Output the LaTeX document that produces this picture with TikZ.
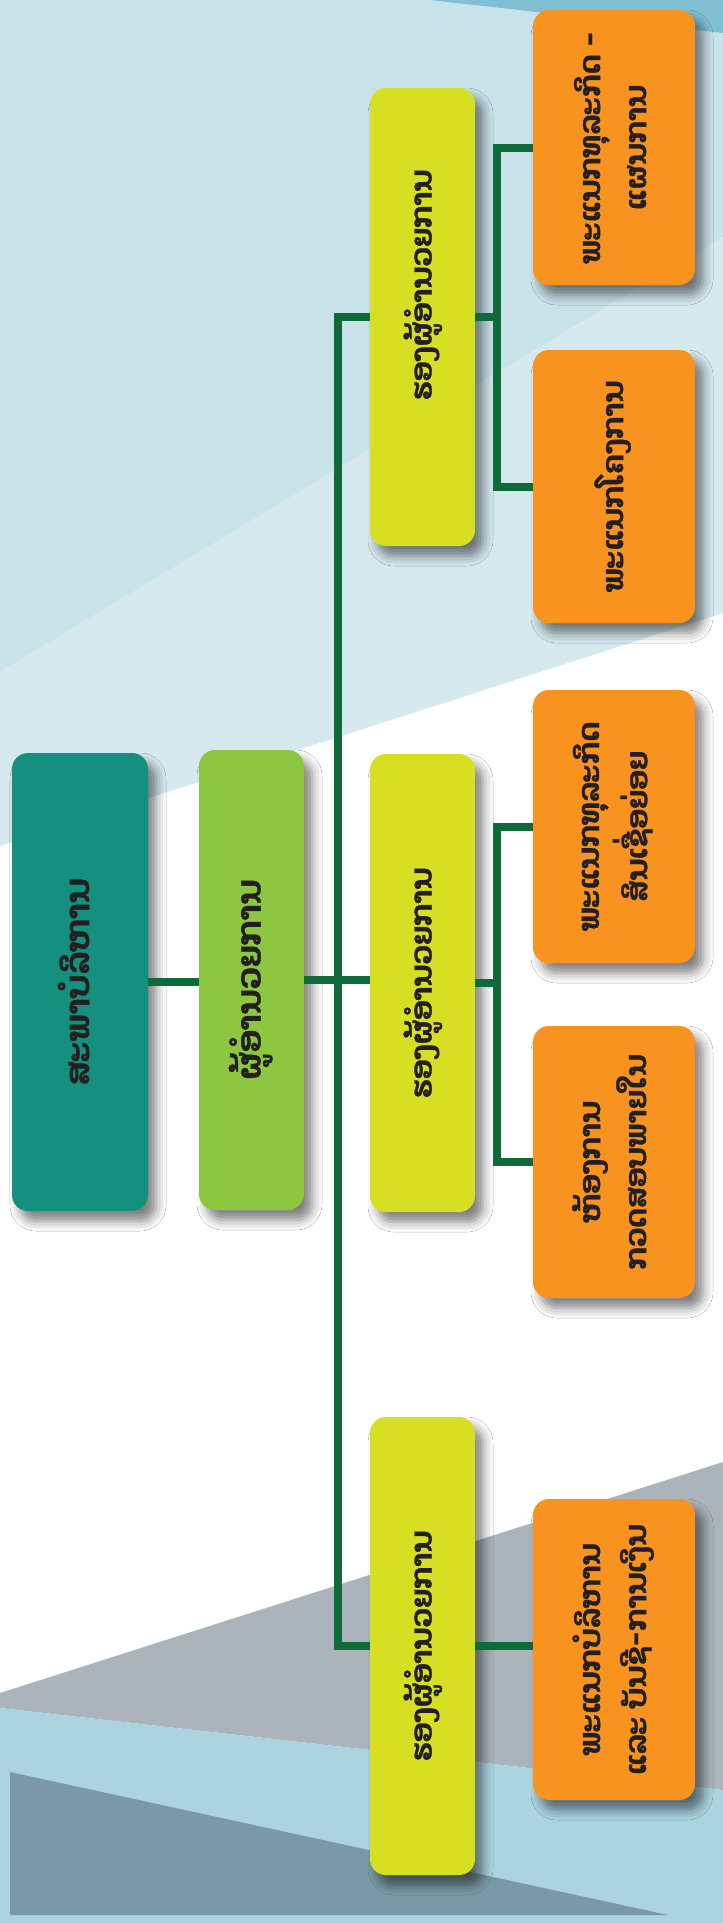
\documentclass[tikz,border=0pt]{standalone}
\usepackage{fontspec}
\usepackage{graphicx}
\newfontfamily\laofont[Script=Lao,BoldFeatures={FakeBold=1.2}]{Dhyana}
\usetikzlibrary{shadows.blur}
\definecolor{cteal}{HTML}{15907F}
\definecolor{cgreen}{HTML}{8DC63F}
\definecolor{cyellow}{HTML}{D6DF22}
\definecolor{corange}{HTML}{F7931E}
\definecolor{cline}{HTML}{0F6A39}
\definecolor{bgA}{HTML}{C9E3EA}
\definecolor{bgB}{HTML}{D5E9EF}
\definecolor{bgTop}{HTML}{80C0D2}
\definecolor{bgGray}{HTML}{AAB4BA}
\definecolor{bgLB}{HTML}{ABD4DF}
\definecolor{bgDark}{HTML}{7A99A4}
\definecolor{ctext}{HTML}{231F20}
\newcommand{\vtext}[1]{\rotatebox{90}{\begin{tabular}{@{}c@{}}#1\end{tabular}}}
\tikzset{
  box/.style={rounded corners=16pt, inner sep=0pt, text=ctext,
    font={\laofont\bfseries\fontsize{30}{46}\selectfont},
    blur shadow={shadow xshift=8pt, shadow yshift=-10pt, shadow blur radius=10pt, shadow opacity=50}},
  bigtext/.style={font={\laofont\bfseries\fontsize{34}{46}\selectfont}},
  tealbox/.style={box, bigtext, fill=cteal, minimum width=136pt, minimum height=458pt},
  greenbox/.style={box, bigtext, fill=cgreen, minimum width=105pt, minimum height=460pt},
  yellowbox/.style={box, fill=cyellow, minimum width=105pt, minimum height=458pt},
  orangebox/.style={box, fill=corange, minimum width=162pt},
  conn/.style={draw=cline, line width=8pt, line join=miter}
}
\begin{document}
\begin{tikzpicture}[x=1pt,y=-1pt]
\useasboundingbox (0,0) rectangle (723,1923);
% background
\fill[white] (0,0) rectangle (723,1923);
\fill[bgA] (0,0) -- (429,0) -- (723,33) -- (723,237) -- (0,672) -- cycle;
\fill[bgTop] (429,0) -- (723,0) -- (723,33) -- cycle;
\fill[bgB] (0,672) -- (723,237) -- (723,613) -- (0,846) -- cycle;
\fill[bgGray] (0,1693) -- (723,1462) -- (723,1790) -- (0,1708) -- cycle;
\fill[bgLB] (0,1708) -- (723,1790) -- (723,1923) -- (0,1923) -- cycle;
\fill[bgDark] (10,1772) -- (668,1915) -- (10,1915) -- cycle;

% boxes
\node[tealbox] (teal) at (80,982) {\vtext{ສະພາບໍລິຫານ}};
\node[greenbox] (green) at (251.5,980) {\vtext{ຜູ້ອຳນວຍການ}};
\node[yellowbox] (y1) at (422.5,317) {\vtext{\hspace*{64pt}ຮອງຜູ້ອຳນວຍການ}};
\node[yellowbox] (y2) at (422.5,983) {\vtext{ຮອງຜູ້ອຳນວຍການ}};
\node[yellowbox] (y3) at (422.5,1646) {\vtext{ຮອງຜູ້ອຳນວຍການ}};
\node[orangebox, minimum height=275pt] (o1) at (614,147.5) {\vtext{ພະແນກທຸລະກິດ -\\ແຜນການ}};
\node[orangebox, minimum height=273pt] (o2) at (614,486.5) {\vtext{ພະແນກໂຄງການ}};
\node[orangebox, minimum height=273pt] (o3) at (614,826.5) {\vtext{ພະແນກທຸລະກິດ\\ສິນເຊື່ອຍ່ອຍ}};
\node[orangebox, minimum height=272pt] (o4) at (614,1162) {\vtext{ຫ້ອງການ\\ກວດສອບພາຍໃນ}};
\node[orangebox, minimum height=301pt] (o5) at (614,1649.5) {\vtext{ພະແນກບໍລິຫານ\\ແລະ ບັນຊີ-ການເງິນ}};

% connectors
\coordinate (tk) at (338,0);
\coordinate (bk) at (497,0);
\draw[conn] (teal.east) -- (teal.east -| green.west);
\draw[conn] (green.east) -- (green.east -| y2.west);
\draw[conn] (y1.west) -- (y1.west -| tk) -- (y3.west -| tk) -- (y3.west);
\draw[conn] (y1.east) -- (y1.east -| bk);
\draw[conn] (o1.west) -- (o1.west -| bk) -- (o2.west -| bk) -- (o2.west);
\draw[conn] (y2.east) -- (y2.east -| bk);
\draw[conn] (o3.west) -- (o3.west -| bk) -- (o4.west -| bk) -- (o4.west);
\draw[conn] (y3.east) -- (y3.east -| o5.west);
\end{tikzpicture}
\end{document}
